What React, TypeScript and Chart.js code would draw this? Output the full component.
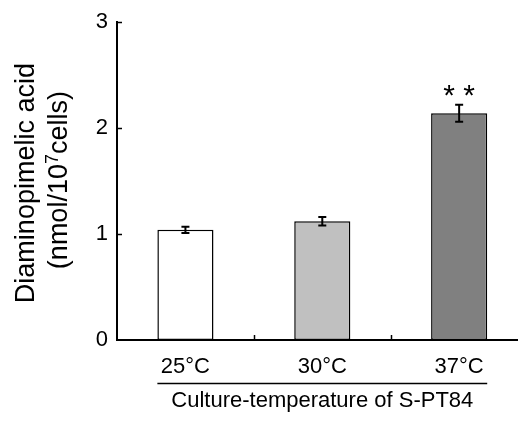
import React, { useEffect, useRef } from 'react';
import { Chart, registerables } from 'chart.js';

Chart.register(...registerables);

const categories = ['25°C', '30°C', '37°C'];
const values = [1.04, 1.12, 2.14];
const errors = [0.03, 0.04, 0.08];
const significance = ['', '', '**'];
const barColors = ['#ffffff', '#c0c0c0', '#808080'];
const yTickValues = [0, 1, 2, 3];
const yTitleLine1 = 'Diaminopimelic acid';
const yTitleLine2Parts = ['(nmol/10', '7', 'cells)'];
const xTitle = 'Culture-temperature of S-PT84';

const FONT = '"Liberation Sans", Arial, Helvetica, sans-serif';

const extrasPlugin = {
  id: 'extras',
  afterDraw(chart: any) {
    const ctx = chart.ctx;
    const xs = chart.scales.x;
    const ys = chart.scales.y;
    const area = chart.chartArea;
    const meta = chart.getDatasetMeta(0);
    ctx.save();
    ctx.strokeStyle = '#000';
    ctx.fillStyle = '#000';

    // inward y ticks
    ctx.lineWidth = 1.5;
    yTickValues.forEach((v) => {
      if (v === 0) return;
      const py = Math.round(ys.getPixelForValue(v)) + 0.5;
      ctx.beginPath();
      ctx.moveTo(area.left, py);
      ctx.lineTo(area.left + 5, py);
      ctx.stroke();
    });

    // upward x ticks between categories
    for (let i = 0; i < categories.length - 1; i++) {
      const px = Math.round(xs.getPixelForValue(i + 0.5)) + 0.5;
      ctx.beginPath();
      ctx.moveTo(px, area.bottom);
      ctx.lineTo(px, area.bottom - 5);
      ctx.stroke();
    }

    // error bars
    ctx.lineWidth = 2;
    meta.data.forEach((bar: any, i: number) => {
      const x = bar.x;
      const yTop = ys.getPixelForValue(values[i] + errors[i]);
      const yBot = ys.getPixelForValue(values[i] - errors[i]);
      ctx.beginPath();
      ctx.moveTo(x, yTop);
      ctx.lineTo(x, yBot);
      ctx.moveTo(x - 4, yTop);
      ctx.lineTo(x + 4, yTop);
      ctx.moveTo(x - 4, yBot);
      ctx.lineTo(x + 4, yBot);
      ctx.stroke();

      // significance marks
      const sig = significance[i];
      if (sig) {
        ctx.font = `30px ${FONT}`;
        ctx.textAlign = 'center';
        ctx.textBaseline = 'alphabetic';
        const chars = sig.split('');
        const spacing = 20;
        chars.forEach((c, k) => {
          const m = ctx.measureText(c);
          const cx = x + (k - (chars.length - 1) / 2) * spacing;
          const cy = yTop - 14;
          const base = cy + (m.actualBoundingBoxAscent - m.actualBoundingBoxDescent) / 2;
          ctx.fillText(c, cx, base);
        });
      }
    });

    // underline below category labels
    const first: any = meta.data[0];
    const last: any = meta.data[meta.data.length - 1];
    const x0 = first.x - first.width / 2;
    const x1 = last.x + last.width / 2;
    ctx.lineWidth = 1.5;
    ctx.beginPath();
    ctx.moveTo(x0, area.bottom + 43.5);
    ctx.lineTo(x1, area.bottom + 43.5);
    ctx.stroke();

    // x title
    ctx.font = `22px ${FONT}`;
    ctx.textAlign = 'center';
    ctx.textBaseline = 'middle';
    ctx.fillText(xTitle, xs.getPixelForValue(1), area.bottom + 61);

    // y title (two rotated lines)
    const cy = (area.top + area.bottom) / 2;
    ctx.textBaseline = 'alphabetic';
    // line 1
    ctx.save();
    ctx.font = `27px ${FONT}`;
    ctx.textAlign = 'center';
    ctx.translate(34, cy + 2);
    ctx.rotate(-Math.PI / 2);
    ctx.fillText(yTitleLine1, 0, 0);
    ctx.restore();
    // line 2 with superscript
    ctx.save();
    ctx.translate(67, cy - 1);
    ctx.rotate(-Math.PI / 2);
    ctx.textAlign = 'left';
    const mainFont = `27px ${FONT}`;
    const supFont = `18px ${FONT}`;
    const fonts = [mainFont, supFont, mainFont];
    const widths = yTitleLine2Parts.map((p, k) => {
      ctx.font = fonts[k];
      return ctx.measureText(p).width;
    });
    const total = widths.reduce((a, b) => a + b, 0);
    let pos = -total / 2;
    yTitleLine2Parts.forEach((p, k) => {
      ctx.font = fonts[k];
      ctx.fillText(p, pos, k === 1 ? -9 : 0);
      pos += widths[k];
    });
    ctx.restore();

    ctx.restore();
  },
};

export default function App() {
  const canvasRef = useRef<HTMLCanvasElement | null>(null);

  useEffect(() => {
    const canvas = canvasRef.current;
    if (!canvas) return;
    const chart = new Chart(canvas, {
      type: 'bar',
      data: {
        datasets: [
          {
            data: values.map((v, i) => ({ x: i, y: v })),
            backgroundColor: barColors,
            borderColor: '#000',
            borderWidth: 1.5,
            borderSkipped: false,
            barPercentage: 0.41,
            categoryPercentage: 1,
          } as any,
        ],
      },
      options: {
        animation: false,
        responsive: false,
        maintainAspectRatio: false,
        devicePixelRatio: 1,
        layout: { padding: { top: 16, left: 0, right: 0, bottom: 0 } },
        plugins: {
          legend: { display: false },
          tooltip: { enabled: false },
          title: { display: false },
        },
        scales: {
          x: {
            type: 'linear',
            offset: false,
            min: -0.5,
            max: 2.43,
            afterBuildTicks: (s: any) => {
              s.ticks = categories.map((_, i) => ({ value: i }));
            },
            afterFit: (s: any) => {
              s.height = 85;
            },
            ticks: {
              callback: (v: any) => categories[v as number] ?? '',
              font: { family: FONT, size: 22 },
              color: '#000',
              padding: 14,
              maxRotation: 0,
              autoSkip: false,
            },
            grid: { display: false, drawTicks: false, offset: false },
            border: { display: true, color: '#000', width: 2 },
          },
          y: {
            min: 0,
            max: 3,
            afterBuildTicks: (s: any) => {
              s.ticks = yTickValues.map((v) => ({ value: v }));
            },
            afterFit: (s: any) => {
              s.width = 117;
            },
            ticks: {
              font: { family: FONT, size: 22 },
              color: '#000',
              padding: 9,
            },
            grid: { display: false, drawTicks: false },
            border: { display: true, color: '#000', width: 2 },
          },
        },
      } as any,
      plugins: [extrasPlugin],
    });
    return () => chart.destroy();
  }, []);

  return (
    <div style={{ position: 'fixed', left: 0, top: 0, width: 518, height: 425, background: '#fff' }}>
      <canvas ref={canvasRef} width={518} height={425} />
    </div>
  );
}
